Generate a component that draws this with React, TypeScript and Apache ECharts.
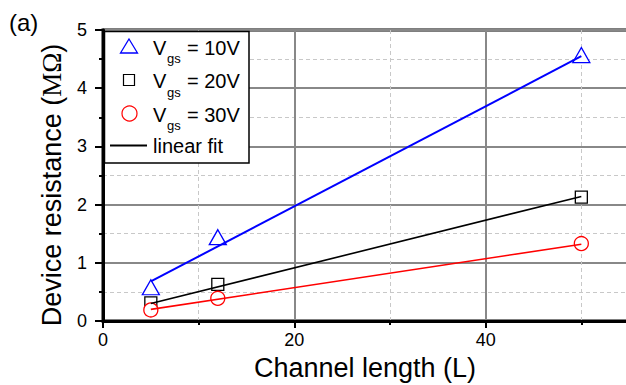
import React, { useEffect, useRef } from "react";
import * as echarts from "echarts";

const channelLength = [5, 12, 50];
const vgs10 = [0.58, 1.44, 4.57];
const vgs20 = [0.31, 0.63, 2.13];
const vgs30 = [0.19, 0.39, 1.33];
const fitX = [5, 50];
const fit10 = [0.68, 4.55];
const fit20 = [0.3, 2.14];
const fit30 = [0.2, 1.32];
const legendLabels = ["= 10V", "= 20V", "= 30V", "linear fit"];

const FONT = "Liberation Sans, Arial, sans-serif";

function pairs(xs: number[], ys: number[]) {
  return xs.map((x, i) => [x, ys[i]]);
}

export default function App() {
  const ref = useRef<HTMLDivElement>(null);
  useEffect(() => {
    if (!ref.current) return;
    const chart = echarts.init(ref.current, null, { renderer: "svg" });
    const rowY = [47.5, 81, 114.5];
    const legendGraphics: any[] = [
      {
        type: "rect",
        shape: { x: 104.5, y: 31.5, width: 144.5, height: 131.5 },
        style: { fill: "#fff", stroke: "#000", lineWidth: 1.5 },
        z: 10,
      },
      {
        type: "polygon",
        shape: { points: [[129, 39], [137.5, 53], [120.5, 53]] },
        style: { fill: "none", stroke: "#0000ff", lineWidth: 1.3 },
        z: 11,
      },
      {
        type: "rect",
        shape: { x: 123.5, y: 74.5, width: 11, height: 11 },
        style: { fill: "none", stroke: "#000", lineWidth: 1.2 },
        z: 11,
      },
      {
        type: "circle",
        shape: { cx: 129.5, cy: 113.5, r: 7.5 },
        style: { fill: "none", stroke: "#ff0000", lineWidth: 1.2 },
        z: 11,
      },
      {
        type: "line",
        shape: { x1: 110, y1: 145.5, x2: 147, y2: 145.5 },
        style: { stroke: "#000", lineWidth: 2 },
        z: 11,
      },
    ];
    rowY.forEach((y, i) => {
      legendGraphics.push(
        {
          type: "text",
          x: 153,
          y,
          z: 11,
          style: { text: "V", font: `20px ${FONT}`, fill: "#000", verticalAlign: "middle", align: "left" },
        },
        {
          type: "text",
          x: 167,
          y: y + 11,
          z: 11,
          style: { text: "gs", font: `13px ${FONT}`, fill: "#000", verticalAlign: "middle", align: "left" },
        },
        {
          type: "text",
          x: 187,
          y,
          z: 11,
          style: { text: legendLabels[i], font: `20px ${FONT}`, fill: "#000", verticalAlign: "middle", align: "left" },
        }
      );
    });
    legendGraphics.push({
      type: "text",
      x: 153,
      y: 146,
      z: 11,
      style: { text: legendLabels[3], font: `20px ${FONT}`, fill: "#000", verticalAlign: "middle", align: "left" },
    });
    legendGraphics.push(
      {
        type: "text",
        x: 9,
        y: 22,
        style: { text: "(a)", font: `24px ${FONT}`, fill: "#000", verticalAlign: "middle", align: "left" },
      },
      {
        type: "text",
        x: 52,
        y: 185,
        rotation: Math.PI / 2,
        style: {
          text: "Device resistance ({s|MΩ})",
          font: `27px ${FONT}`,
          fill: "#000",
          verticalAlign: "middle",
          align: "center",
          rich: { s: { fontFamily: "Liberation Serif, Times New Roman, serif", fontSize: 27, fill: "#000" } },
        },
      },
      {
        type: "text",
        x: 365,
        y: 368,
        style: { text: "Channel length (L)", font: `27px ${FONT}`, fill: "#000", verticalAlign: "middle", align: "center" },
      }
    );

    const markerStyle = (c: string) => ({ color: "#fff", borderColor: c, borderWidth: 1.3, opacity: 1 });

    chart.setOption({
      animation: false,
      grid: {
        left: 103,
        top: 30,
        width: 574,
        height: 291,
        show: true,
        borderColor: "#000",
        borderWidth: 3,
        backgroundColor: "transparent",
        containLabel: false,
        outerBoundsMode: "none",
      },
      xAxis: {
        type: "value",
        min: 0,
        max: 60,
        interval: 20,
        axisLine: { show: true, onZero: false, lineStyle: { color: "#000", width: 3 } },
        axisTick: { show: true, length: 7, lineStyle: { color: "#000", width: 2 } },
        minorTick: { show: true, splitNumber: 2, length: 4, lineStyle: { color: "#000", width: 2 } },
        splitLine: { show: true, lineStyle: { color: "#888", width: 2 } },
        minorSplitLine: { show: true, lineStyle: { color: "#c8c8c8", width: 1, type: [4, 3] } },
        axisLabel: {
          margin: 10,
          fontSize: 18,
          fontFamily: FONT,
          color: "#000",
          formatter: (v: number) => (v % 20 === 0 && v < 60 ? String(v) : ""),
        },
      },
      yAxis: {
        type: "value",
        min: 0,
        max: 5,
        interval: 1,
        axisLine: { show: true, onZero: false, lineStyle: { color: "#000", width: 3 } },
        axisTick: { show: true, length: 8, lineStyle: { color: "#000", width: 2 } },
        minorTick: { show: true, splitNumber: 2, length: 4, lineStyle: { color: "#000", width: 2 } },
        splitLine: { show: true, lineStyle: { color: "#888", width: 2 } },
        minorSplitLine: { show: true, lineStyle: { color: "#c8c8c8", width: 1, type: [4, 3] } },
        axisLabel: { margin: 16, fontSize: 18, fontFamily: FONT, color: "#000" },
      },
      series: [
        { type: "scatter", name: "Vgs = 10V", data: pairs(channelLength, vgs10), symbol: "triangle", symbolSize: [17, 15], itemStyle: markerStyle("#0000ff"), z: 3 },
        { type: "scatter", name: "Vgs = 20V", data: pairs(channelLength, vgs20), symbol: "rect", symbolSize: [12, 12], itemStyle: markerStyle("#000"), z: 3 },
        { type: "scatter", name: "Vgs = 30V", data: pairs(channelLength, vgs30), symbol: "circle", symbolSize: 14, itemStyle: markerStyle("#ff0000"), z: 3 },
        { type: "line", name: "fit10", data: pairs(fitX, fit10), showSymbol: false, symbol: "none", lineStyle: { color: "#0000ff", width: 2 }, z: 4 },
        { type: "line", name: "fit20", data: pairs(fitX, fit20), showSymbol: false, symbol: "none", lineStyle: { color: "#000", width: 1.6 }, z: 4 },
        { type: "line", name: "fit30", data: pairs(fitX, fit30), showSymbol: false, symbol: "none", lineStyle: { color: "#ff0000", width: 1.6 }, z: 4 },
      ],
      graphic: legendGraphics,
    });
    return () => chart.dispose();
  }, []);
  return <div ref={ref} style={{ width: 626, height: 385, position: "absolute", left: 0, top: 0 }} />;
}
